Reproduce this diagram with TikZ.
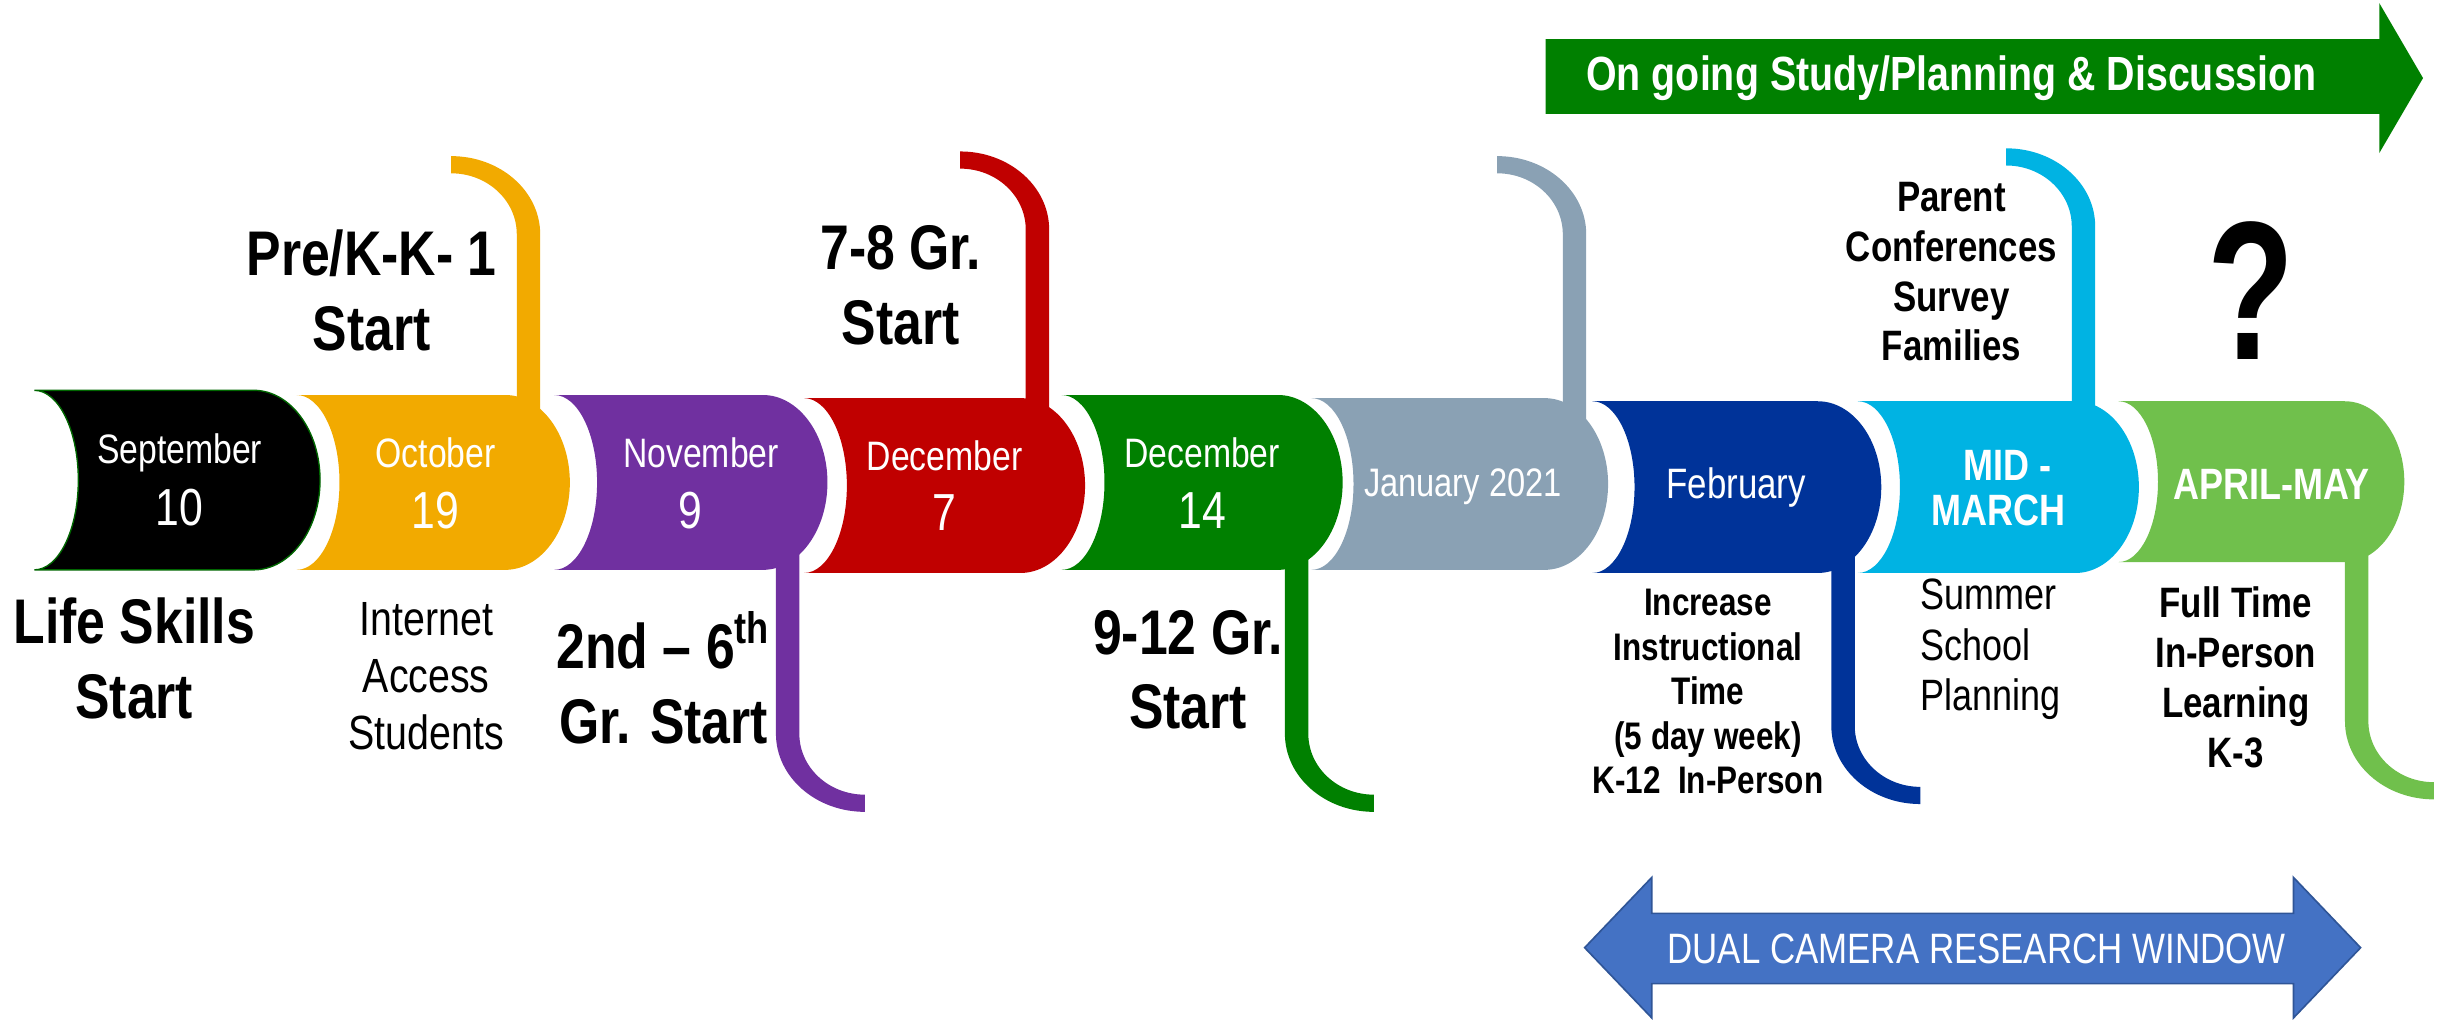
\documentclass[tikz,border=0pt]{standalone}
\usepackage{tikz}
\usepackage{fontspec}
\setmainfont[FakeStretch=0.82]{Liberation Sans}
\definecolor{cOrange}{HTML}{F2AA00}
\definecolor{cPurple}{HTML}{7030A0}
\definecolor{cRed}{HTML}{C00000}
\definecolor{cGreen}{HTML}{008000}
\definecolor{cGray}{HTML}{8AA1B4}
\definecolor{cNavy}{HTML}{003399}
\definecolor{cCyan}{HTML}{00B3E3}
\definecolor{cLime}{HTML}{70C04C}
\definecolor{cBlue}{HTML}{4472C4}
\definecolor{cBlueEdge}{HTML}{2F5597}
\newcommand\tlfs[2]{\fontsize{#1}{#2}\selectfont}
% segment: [extra], color, L, R, T, B
\newcommand{\tlseg}[6][]{%
 \pgfmathsetmacro\tlH{(#6-#5)/2}%
 \pgfmathsetmacro\tlM{(#6+#5)/2}%
 \pgfmathsetmacro\tlA{0.74*\tlH}%
 \pgfmathsetmacro\tlC{0.49*\tlH}%
 \pgfmathsetmacro\tlX{#4-\tlA}%
 \pgfmathsetmacro\tlKa{0.5523*\tlA}%
 \pgfmathsetmacro\tlKh{0.5523*\tlH}%
 \pgfmathsetmacro\tlKc{0.5523*\tlC}%
 \fill[#2,#1] (#3,#5) -- (\tlX,#5) .. controls (\tlX+\tlKa,#5) and (#4,\tlM-\tlKh) .. (#4,\tlM)
   .. controls (#4,\tlM+\tlKh) and (\tlX+\tlKa,#6) .. (\tlX,#6) -- (#3,#6)
   .. controls (#3+\tlKc,#6) and (#3+\tlC,\tlM+\tlKh) .. (#3+\tlC,\tlM)
   .. controls (#3+\tlC,\tlM-\tlKh) and (#3+\tlKc,#5) .. (#3,#5) -- cycle;}
% up stem: color, s, T, yc
\newcommand{\stemup}[4]{%
 \fill[#1] (#2,#3+20) -- (#2,#4) .. controls (#2,#4-0.5523*39) and (#2-42+0.5523*42,#4-39) .. (#2-42,#4-39)
  -- (#2-42,#4-50) .. controls (#2-42+0.5523*57,#4-50) and (#2+15,#4-0.5523*50) .. (#2+15,#4)
  -- (#2+15,#3+20) -- cycle;}
% down stem: color, s, B, yd
\newcommand{\stemdown}[4]{%
 \fill[#1] (#2,#3-20) -- (#2,#4) .. controls (#2,#4+0.5523*50) and (#2+57-0.5523*57,#4+50) .. (#2+57,#4+50)
  -- (#2+57,#4+39) .. controls (#2+57-0.5523*42,#4+39) and (#2+15,#4+0.5523*39) .. (#2+15,#4)
  -- (#2+15,#3-20) -- cycle;}
\begin{document}
\begin{tikzpicture}[x=0.02cm,y=-0.02cm,
  mon/.style={text=white, inner sep=0pt, font=\tlfs{15}{18}},
  num/.style={text=white, inner sep=0pt, font=\tlfs{19}{22}},
  monb/.style={text=white, inner sep=0pt, font=\bfseries\tlfs{16}{18.5}},
  bigtxt/.style={inner sep=0pt, align=center, font=\bfseries\tlfs{23}{27.3}},
  midtxt/.style={inner sep=0pt, align=center, font=\tlfs{17.5}{20.8}},
  smalltxt/.style={inner sep=0pt, align=center, font=\bfseries\tlfs{14}{16.2}},
  sidetxt/.style={inner sep=0pt, align=center, font=\bfseries\tlfs{15.5}{18.2}},
  plaintxt/.style={inner sep=0pt, align=left, font=\tlfs{16}{18.5}}]
\path[use as bounding box] (0,0) rectangle (1568,652.7);

% segments
\tlseg[draw=green!40!black, line width=0.5pt]{black}{22}{205}{250}{365}
\tlseg{cOrange}{190}{365}{253}{365}
\tlseg{cPurple}{355}{530}{253}{365}
\tlseg{cRed}{515}{695}{255}{367}
\tlseg{cGreen}{680}{860}{253}{365}
\tlseg{cGray}{840}{1030}{255}{365}
\tlseg{cNavy}{1020}{1205}{257}{367}
\tlseg{cCyan}{1190}{1370}{257}{367}
\tlseg{cLime}{1357}{1540}{257}{360}

% stems
\stemup{cOrange}{331}{253}{150}
\stemdown{cPurple}{497}{365}{470}
\stemup{cRed}{657}{255}{147}
\stemdown{cGreen}{823}{365}{470}
\stemup{cGray}{1001}{255}{150}
\stemdown{cNavy}{1173}{367}{465}
\stemup{cCyan}{1327}{257}{145}
\stemdown{cLime}{1502}{360}{462}

% segment labels
\node[mon] (m1) at (115,290) {September};
\node[num] (d1) at (115,325) {10};
\node[mon] (m2) at (279,290) {October};
\node[num] (d2) at (279,327) {19};
\node[mon] (m3) at (449,290) {November};
\node[num] (d3) at (442,327) {9};
\node[mon] (m4) at (605,292) {December};
\node[num] (d4) at (605,328) {7};
\node[mon] (m5) at (770,290) {December};
\node[num] (d5) at (770,327) {14};
\node[mon, font=\tlfs{14.5}{17}] (m6) at (937,312) {January 2021};
\node[mon, font=\tlfs{15.5}{18}] (m7) at (1112,312) {February};
\node[monb] (m8a) at (1286,298) {MID -};
\node[monb] (m8b) at (1280,327) {MARCH};
\node[monb] (m9) at (1455,310) {APRIL-MAY};

% black labels
\node[bigtxt] (t1) at (86,422) {Life Skills\\Start};
\node[bigtxt] (t2) at (238,186) {Pre/K-K- 1\\Start};
\node[midtxt] (t3) at (273,433) {Internet\\Access\\Students};
\node[bigtxt] (t4) at (425,434) {2nd -- 6\textsuperscript{th}\\Gr. Start};
\node[bigtxt] (t5) at (577,183) {7-8 Gr.\\Start};
\node[bigtxt] (t6) at (761,429) {9-12 Gr.\\Start};
\node[smalltxt] (t7) at (1094,443) {Increase\\Instructional\\Time\\(5 day week)\\K-12~ In-Person};
\node[plaintxt, anchor=west] (t8) at (1230,416) {Summer\\School\\Planning};
\node[sidetxt] (t9) at (1250,174) {Parent\\Conferences\\Survey\\Families};
\node[inner sep=0pt, font=\bfseries\tlfs{72}{74}] (q) at (1442,186) {\scalebox{0.88}[1]{?}};
\node[sidetxt] (t10) at (1432,434) {Full Time\\In-Person\\Learning\\K-3};

% green arrow
\fill[cGreen] (990,25) -- (1524,25) -- (1524,2) -- (1552,50) -- (1524,98) -- (1524,73) -- (990,73) -- cycle;
\node[inner sep=0pt, text=white, font=\bfseries\tlfs{17.5}{20}] (ongoing) at (1250,50) {On going Study/Planning \& Discussion};

% blue double arrow
\filldraw[fill=cBlue, draw=cBlueEdge, line width=0.6pt] (1015,607) -- (1058,562) -- (1058,585) -- (1469,585) -- (1469,562) -- (1512,607) -- (1469,652) -- (1469,630) -- (1058,630) -- (1058,652) -- cycle;
\node[inner sep=0pt, text=white, font=\tlfs{15.5}{18}] (dual) at (1266,608) {DUAL CAMERA RESEARCH WINDOW};
\end{tikzpicture}
\end{document}
